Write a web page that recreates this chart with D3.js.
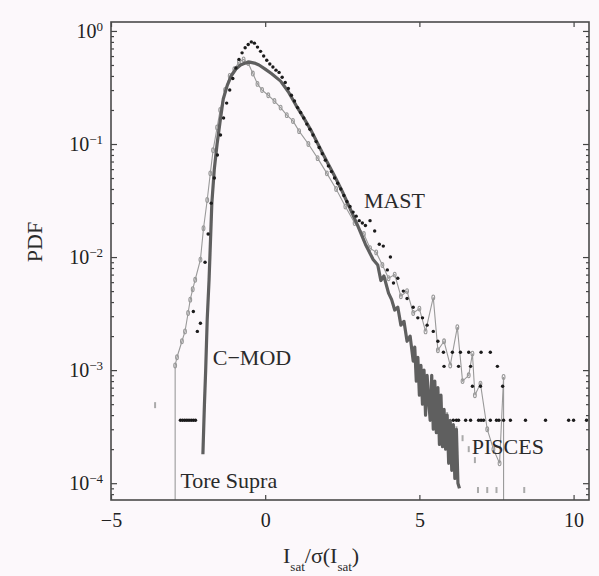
<!DOCTYPE html>
<html>
<head>
<meta charset="utf-8">
<script src="https://cdn.jsdelivr.net/npm/d3@7"></script>
<style>
body { margin: 0; background: #fcf8fb; }
svg { display: block; font-family: "Liberation Serif", "Times New Roman", serif; }
</style>
</head>
<body>
<svg width="599" height="576"></svg>
<script>
// values: [I_sat/sigma, PDF]
var cmod = [[-2.02,1.8e-4],[-1.97,5e-4],[-1.93,1e-3],[-1.88,2.8e-3],[-1.82,6.3e-3],[-1.77,0.015],[-1.73,0.03],
  [-1.65,0.06],[-1.56,0.1],[-1.46,0.16],[-1.36,0.25],[-1.23,0.33],[-1.1,0.4],[-0.95,0.46],[-0.8,0.5],[-0.65,0.52],
  [-0.5,0.53],[-0.35,0.52],[-0.2,0.5],[0,0.46],[0.2,0.42],[0.5,0.36],[0.75,0.29],[1.0,0.22],[1.25,0.17],[1.5,0.13],
  [1.75,0.095],[2.0,0.07],[2.25,0.052],[2.5,0.038],[2.75,0.027],[3.0,0.019],[3.25,0.013],[3.5,0.0095],[3.65,0.0085],
  [3.75,0.0062],[3.85,0.0068],[4.0,0.0048],[4.1,0.0042],[4.2,0.0034],[4.3,0.0036],[4.4,0.0025],[4.5,0.0027],
  [4.6,0.0018],[4.7,0.002],[4.8,0.0012],[4.85,0.0016],[4.9,0.0008],[4.95,0.0013],[5.0,0.0006],[5.05,0.0011],
  [5.1,0.0005],[5.15,0.001],[5.2,0.0004],[5.25,0.0009],[5.3,0.00055],[5.35,0.00036],[5.4,0.0009],[5.45,0.0003],
  [5.5,0.0008],[5.55,0.00028],[5.6,0.0007],[5.65,0.00022],[5.7,0.0006],[5.75,0.00021],[5.8,0.00045],[5.85,0.0002],
  [5.9,0.0004],[5.95,0.00015],[6.0,0.00036],[6.05,0.00013],[6.1,0.00033],[6.15,0.00011],[6.2,0.0003],[6.25,0.0001],
  [6.3,0.00009]];

var mast = [[-2.75,3.6e-4],[-2.68,3.6e-4],[-2.61,3.6e-4],[-2.54,3.6e-4],[-2.47,3.6e-4],[-2.4,3.6e-4],[-2.33,3.6e-4],
  [-2.26,3.6e-4],[-2.33,3.3e-3],[-2.2,2.2e-3],[-2.1,2.6e-3],
  [-1.95,0.009],[-1.85,0.016],[-1.75,0.03],[-1.65,0.05],[-1.55,0.08],[-1.45,0.12],[-1.35,0.17],[-1.25,0.23],
  [-1.15,0.3],[-1.05,0.38],[-0.95,0.47],[-0.85,0.56],[-0.75,0.64],[-0.65,0.71],[-0.55,0.76],[-0.45,0.8],
  [-0.35,0.78],[-0.25,0.72],[-0.15,0.66],[-0.05,0.6],[0.05,0.55],[0.15,0.51],[0.25,0.48],[0.35,0.45],[0.45,0.43],
  [0.55,0.39],[0.65,0.35],[0.75,0.31],[0.85,0.27],[0.95,0.24],[1.05,0.21],[1.15,0.19],[1.25,0.17],[1.35,0.15],
  [1.45,0.135],[1.55,0.12],[1.65,0.105],[1.75,0.093],[1.85,0.082],[1.95,0.072],[2.05,0.064],[2.15,0.057],
  [2.25,0.05],[2.35,0.045],[2.45,0.04],[2.55,0.035],[2.65,0.031],[2.75,0.028],[2.85,0.025],[2.95,0.023],
  [3.05,0.021],[3.15,0.02],[3.25,0.019],[3.4,0.021],[3.55,0.017],[3.7,0.013],[3.83,0.0125],[3.96,0.0077],
  [4.06,0.01],[4.16,0.0059],[4.3,0.0065],[4.48,0.005],[4.6,0.0043],[4.8,0.0036],[4.95,0.0029],[5.1,0.0029],
  [5.25,0.0025],[5.45,0.0022],[5.6,0.0018],
  [5.78,1.44e-3],[6.07,1.44e-3],[6.33,1.44e-3],[6.6,1.44e-3],[7.0,1.44e-3],[7.3,1.44e-3],
  [5.8,1.08e-3],[6.27,1.08e-3],[6.66,1.08e-3],[7.53,1.08e-3],
  [6.72,7.2e-4],[6.98,7.2e-4],[7.7,7.2e-4],
  [6.1,3.6e-4],[6.2,3.6e-4],[6.27,3.6e-4],[6.5,3.6e-4],[6.66,3.6e-4],[6.92,3.6e-4],[7.0,3.6e-4],[7.08,3.6e-4],
  [7.3,3.6e-4],[7.5,3.6e-4],[7.58,3.6e-4],[7.73,3.6e-4],[7.95,3.6e-4],[8.44,3.6e-4],[9.09,3.6e-4],
  [9.84,3.6e-4],[10.0,3.6e-4],[10.42,3.6e-4]];

var tore = [[-2.92,5e-5],[-2.92,1.1e-3],[-2.86,1.3e-3],[-2.7,1.8e-3],[-2.6,2.2e-3],[-2.5,3.2e-3],[-2.43,4.2e-3],
  [-2.35,5.2e-3],[-2.27,6.3e-3],[-2.1,9.5e-3],[-2.0,0.018],[-1.88,0.032],[-1.78,0.055],[-1.69,0.088],
  [-1.56,0.14],[-1.46,0.2],[-1.3,0.3],[-1.15,0.4],[-1.0,0.46],[-0.85,0.53],[-0.7,0.56],[-0.55,0.52],
  [-0.4,0.42],[-0.25,0.34],[-0.1,0.3],[0.1,0.27],[0.3,0.24],[0.5,0.21],[0.7,0.18],[0.9,0.16],[1.1,0.13],
  [1.4,0.1],[1.7,0.075],[2.0,0.055],[2.3,0.04],[2.6,0.028],[2.9,0.02],[3.2,0.016],[3.4,0.012],[3.6,0.011],
  [3.8,0.0085],[4.0,0.0065],[4.2,0.007],[4.4,0.0045],[4.6,0.005],[4.8,0.0032],[5.0,0.0035],[5.2,0.0022],
  [5.45,0.0044],[5.6,0.0015],[5.8,0.0018],[6.0,0.0011],[6.23,0.0024],[6.4,0.0008],[6.6,0.0009],[6.72,0.0014],
  [6.8,0.0006],[6.98,0.00076],[7.2,0.0003],[7.4,0.0002],[7.6,0.00015],[7.73,0.00087],[7.73,5e-5]];

var pisces = [[-3.57,4.9e-4],[5.9,4e-4],[6.2,3e-4],[6.4,2.5e-4],[6.6,2e-4],[6.8,1.6e-4],[6.9,8.7e-5],
  [7.2,8.7e-5],[7.5,8.7e-5],[8.4,8.7e-5]];

var xTicks = [-5, 0, 5, 10];
var yMajor = [1e-4, 1e-3, 1e-2, 1e-1, 1];
var labels = [
  { text: "MAST", x: 3.2, y: 0.027 },
  { text: "C\u2212MOD", x: -1.7, y: 1.1e-3 },
  { text: "Tore Supra", x: -2.75, y: 9e-5 },
  { text: "PISCES", x: 6.7, y: 1.8e-4 }
];

var svg = d3.select("svg"),
    width = +svg.attr("width"),
    height = +svg.attr("height");

var margin = { left: 111, top: 22, right: 10, bottom: 76 };

var x = d3.scaleLinear().domain([-5, 10.5]).range([margin.left, width - margin.right]);
var y = d3.scaleLog().domain([7.1e-5, 1.2]).range([height - margin.bottom, margin.top]);

var yMinor = [];
yMajor.forEach(function(p) {
  for (var k = 2; k <= 9; k++) if (p * k < 1.2) yMinor.push(p * k);
});
yMinor.unshift(8e-5, 9e-5);

var defs = svg.append("defs");
defs.append("clipPath").attr("id", "plotclip")
  .append("rect")
  .attr("x", x(-5)).attr("y", y(1.2))
  .attr("width", x(10.5) - x(-5)).attr("height", y(7.1e-5) - y(1.2));

// soft edges, like the scanned print
defs.append("filter").attr("id", "soft")
  .append("feGaussianBlur").attr("stdDeviation", 0.6);

var plot = svg.append("g")
  .attr("clip-path", "url(#plotclip)")
  .append("g")
  .attr("filter", "url(#soft)");

var line = d3.line()
  .x(function(d) { return x(d[0]); })
  .y(function(d) { return y(d[1]); });

// Tore Supra: thin grey line with open markers
plot.append("path")
  .datum(tore)
  .attr("d", line)
  .attr("fill", "none")
  .attr("stroke", "#9a9a9a")
  .attr("stroke-width", 1.1);

plot.selectAll(".tore")
  .data(tore.slice(1, -1))
  .enter().append("ellipse")
  .attr("class", "tore")
  .attr("cx", function(d) { return x(d[0]); })
  .attr("cy", function(d) { return y(d[1]); })
  .attr("rx", 1.4).attr("ry", 2.4)
  .attr("fill", "none")
  .attr("stroke", "#999")
  .attr("stroke-width", 1.1);

plot.selectAll(".pisces")
  .data(pisces)
  .enter().append("rect")
  .attr("class", "pisces")
  .attr("x", function(d) { return x(d[0]) - 1; })
  .attr("y", function(d) { return y(d[1]) - 3; })
  .attr("width", 2).attr("height", 6)
  .attr("fill", "#aaaaaa");

// C-MOD: solid thick line
plot.append("path")
  .datum(cmod)
  .attr("d", line)
  .attr("fill", "none")
  .attr("stroke", "#5f5f5f")
  .attr("stroke-width", 3.2)
  .attr("stroke-linejoin", "round");

// MAST: black dots
plot.selectAll(".mast")
  .data(mast)
  .enter().append("circle")
  .attr("class", "mast")
  .attr("cx", function(d) { return x(d[0]); })
  .attr("cy", function(d) { return y(d[1]); })
  .attr("r", 1.7)
  .attr("fill", "#1a1a1a");

// axes, ticks pointing inward on every side
function styleAxis(g) {
  g.select(".domain").remove();
  g.selectAll(".tick line").attr("stroke", "#444").attr("stroke-width", 1.2);
}

svg.append("g")
  .attr("transform", "translate(0," + y(7.1e-5) + ")")
  .call(d3.axisBottom(x).tickValues(xTicks).tickSize(-5).tickPadding(13).tickFormat(d3.format("d")))
  .call(styleAxis)
  .selectAll("text").attr("font-size", 20).attr("fill", "#222").attr("font-family", "Liberation Serif");

svg.append("g")
  .attr("transform", "translate(0," + y(1.2) + ")")
  .call(d3.axisTop(x).tickValues(xTicks).tickSize(-5).tickFormat(""))
  .call(styleAxis);

var yl = svg.append("g")
  .attr("transform", "translate(" + x(-5) + ",0)")
  .call(d3.axisLeft(y).tickValues(yMajor).tickSize(-6).tickPadding(8).tickFormat(""))
  .call(styleAxis);

yl.selectAll(".tick text")
  .attr("font-size", 20).attr("fill", "#222").attr("font-family", "Liberation Serif")
  .each(function(d) {
    var t = d3.select(this);
    var e = Math.round(Math.log10(d));
    t.append("tspan").text("10");
    t.append("tspan").attr("font-size", 13).attr("dy", "-0.55em")
      .text(e < 0 ? "\u2212" + (-e) : e);
  });

svg.append("g")
  .attr("transform", "translate(" + x(-5) + ",0)")
  .call(d3.axisLeft(y).tickValues(yMinor).tickSize(-3).tickFormat(""))
  .call(styleAxis);

svg.append("g")
  .attr("transform", "translate(" + x(10.5) + ",0)")
  .call(d3.axisRight(y).tickValues(yMajor).tickSize(-6).tickFormat(""))
  .call(styleAxis);

svg.append("g")
  .attr("transform", "translate(" + x(10.5) + ",0)")
  .call(d3.axisRight(y).tickValues(yMinor).tickSize(-3).tickFormat(""))
  .call(styleAxis);

// frame
svg.append("rect")
  .attr("x", x(-5)).attr("y", y(1.2))
  .attr("width", x(10.5) - x(-5)).attr("height", y(7.1e-5) - y(1.2))
  .attr("fill", "none")
  .attr("stroke", "#4a4a4a")
  .attr("stroke-width", 1.6);

// series names
svg.selectAll(".lab")
  .data(labels)
  .enter().append("text")
  .attr("class", "lab")
  .attr("x", function(d) { return x(d.x); })
  .attr("y", function(d) { return y(d.y); })
  .attr("font-size", 22)
  .attr("fill", "#2a2a2a")
  .text(function(d) { return d.text; });

// axis titles
svg.append("text")
  .attr("transform", "translate(42," + 242 + ") rotate(-90)")
  .attr("text-anchor", "middle")
  .attr("font-size", 22)
  .attr("fill", "#2a2a2a")
  .text("PDF");

var xt = svg.append("text")
  .attr("x", 283).attr("y", 563)
  .attr("font-size", 22)
  .attr("fill", "#2a2a2a");
xt.append("tspan").text("I");
xt.append("tspan").attr("font-size", 13).attr("dy", 8).text("sat");
xt.append("tspan").attr("dy", -8).text("/\u03c3(I");
xt.append("tspan").attr("font-size", 13).attr("dy", 8).text("sat");
xt.append("tspan").attr("dy", -8).text(")");
</script>
</body>
</html>
